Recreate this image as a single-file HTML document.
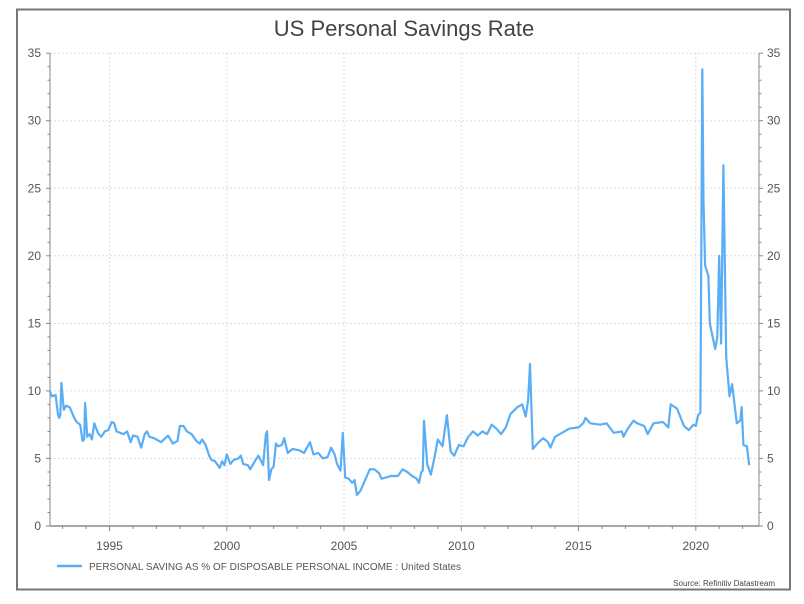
<!DOCTYPE html>
<html><head><meta charset="utf-8"><style>
html,body{margin:0;padding:0;background:#fff;}
body{width:804px;height:604px;overflow:hidden;font-family:"Liberation Sans",sans-serif;}
</style></head><body>
<svg id="s" width="804" height="604" xmlns="http://www.w3.org/2000/svg" style="position:absolute;left:0;top:0">
<rect x="0" y="0" width="804" height="604" fill="#fff"/>
<rect x="17" y="9.5" width="773" height="580" fill="#fff" stroke="#777" stroke-width="2"/>
<text x="404" y="36" text-anchor="middle" font-size="22" fill="#444">US Personal Savings Rate</text>
<g id="grid"></g>
<path id="line" fill="none" stroke="#5aaef5" stroke-width="2.2" stroke-linejoin="round"/>
<line x1="57" y1="566" x2="82" y2="566" stroke="#5aaef5" stroke-width="2.5"/>
<text x="89" y="570" font-size="10" fill="#555">PERSONAL SAVING AS % OF DISPOSABLE PERSONAL INCOME : United States</text>
<text x="775" y="586" text-anchor="end" font-size="8" fill="#444">Source: Refinitiv Datastream</text>
</svg>
<script>
var X0=50,X1=759,Y0=526,PY=13.51;
function xs(y){return 344+(y-2005)*23.45;}
function ys(v){return Y0-v*PY;}
var g='';
for(var v=5;v<=35;v+=5){var y=ys(v).toFixed(1);g+='<line x1="'+X0+'" y1="'+y+'" x2="'+X1+'" y2="'+y+'" stroke="#ddd" stroke-dasharray="2,2"/>';}
for(var yr=1995;yr<=2020;yr+=5){var x=xs(yr).toFixed(1);g+='<line x1="'+x+'" y1="53" x2="'+x+'" y2="'+Y0+'" stroke="#ddd" stroke-dasharray="2,2"/>';
g+='<text x="'+x+'" y="550" text-anchor="middle" font-size="12" fill="#555">'+yr+'</text>';}
g+='<line x1="'+X0+'" y1="53" x2="'+X0+'" y2="'+Y0+'" stroke="#888"/>';
g+='<line x1="'+X1+'" y1="53" x2="'+X1+'" y2="'+Y0+'" stroke="#888"/>';
g+='<line x1="'+X0+'" y1="'+Y0+'" x2="'+X1+'" y2="'+Y0+'" stroke="#888" stroke-width="1.5"/>';
for(var v=0;v<=35;v++){var y=ys(v).toFixed(1);var L=v%5==0?4:2.5;
g+='<line x1="'+(X0-L)+'" y1="'+y+'" x2="'+X0+'" y2="'+y+'" stroke="#888"/>';
g+='<line x1="'+X1+'" y1="'+y+'" x2="'+(X1+L)+'" y2="'+y+'" stroke="#888"/>';
if(v%5==0){g+='<text x="41" y="'+(+y+4)+'" text-anchor="end" font-size="12" fill="#555">'+v+'</text>';
g+='<text x="767" y="'+(+y+4)+'" font-size="12" fill="#555">'+v+'</text>';}}
for(var yr=1993;yr<=2022;yr++){var x=xs(yr).toFixed(1);var L=yr%5==0?5:3;g+='<line x1="'+x+'" y1="'+Y0+'" x2="'+x+'" y2="'+(Y0+L)+'" stroke="#888"/>';}
document.getElementById('grid').innerHTML=g;
var d=[1992.45,10.0,1992.55,9.6,1992.7,9.7,1992.8,8.3,1992.85,8.0,1992.9,8.2,1992.95,10.6,1993.05,8.6,1993.15,8.9,1993.3,8.8,1993.5,8.0,1993.6,7.7,1993.75,7.5,1993.85,6.3,1993.92,6.4,1993.96,9.1,1994.05,6.6,1994.15,6.8,1994.25,6.4,1994.35,7.6,1994.5,6.9,1994.65,6.6,1994.8,7.0,1994.95,7.1,1995.1,7.7,1995.2,7.6,1995.3,7.0,1995.45,6.9,1995.6,6.8,1995.75,7.0,1995.9,6.2,1996.0,6.7,1996.2,6.6,1996.35,5.8,1996.5,6.8,1996.6,7.0,1996.7,6.6,1996.9,6.5,1997.2,6.2,1997.5,6.7,1997.7,6.1,1997.9,6.3,1998.0,7.4,1998.15,7.4,1998.3,7.0,1998.5,6.8,1998.7,6.3,1998.85,6.1,1998.95,6.4,1999.1,6.0,1999.25,5.2,1999.35,4.9,1999.5,4.8,1999.7,4.3,1999.8,4.8,1999.9,4.5,2000.0,5.3,2000.15,4.6,2000.3,4.9,2000.5,5.0,2000.6,5.2,2000.7,4.6,2000.9,4.5,2001.0,4.2,2001.2,4.8,2001.35,5.2,2001.5,4.7,2001.55,4.5,2001.67,6.8,2001.72,7.0,2001.8,3.4,2001.9,4.2,2002.0,4.4,2002.1,6.1,2002.2,5.9,2002.35,6.0,2002.45,6.5,2002.6,5.4,2002.8,5.7,2003.1,5.6,2003.3,5.4,2003.45,5.9,2003.55,6.2,2003.7,5.3,2003.9,5.4,2004.1,5.0,2004.3,5.1,2004.45,5.8,2004.6,5.3,2004.7,4.6,2004.85,4.1,2004.95,6.9,2005.05,3.6,2005.2,3.5,2005.35,3.2,2005.45,3.4,2005.55,2.3,2005.7,2.6,2005.9,3.4,2006.1,4.2,2006.3,4.2,2006.5,3.9,2006.6,3.5,2006.8,3.6,2007.0,3.7,2007.3,3.7,2007.5,4.2,2007.7,4.0,2007.9,3.7,2008.1,3.5,2008.2,3.2,2008.3,4.0,2008.36,4.1,2008.41,7.8,2008.55,4.6,2008.7,3.8,2008.85,5.0,2009.0,6.4,2009.2,5.9,2009.39,8.2,2009.55,5.5,2009.7,5.2,2009.9,6.0,2010.1,5.9,2010.3,6.6,2010.5,7.0,2010.7,6.7,2010.9,7.0,2011.1,6.8,2011.3,7.5,2011.5,7.2,2011.7,6.8,2011.9,7.3,2012.1,8.3,2012.4,8.8,2012.6,9.0,2012.75,8.1,2012.85,9.3,2012.93,12.0,2013.05,5.7,2013.3,6.2,2013.5,6.5,2013.7,6.2,2013.8,5.8,2014.0,6.6,2014.3,6.9,2014.6,7.2,2015.0,7.3,2015.2,7.6,2015.3,8.0,2015.5,7.6,2015.92,7.5,2016.2,7.6,2016.5,6.9,2016.85,7.0,2016.92,6.6,2017.1,7.2,2017.35,7.8,2017.5,7.6,2017.8,7.4,2017.95,6.8,2018.2,7.6,2018.6,7.7,2018.83,7.3,2018.93,9.0,2019.2,8.7,2019.5,7.4,2019.7,7.1,2019.9,7.5,2020.0,7.4,2020.1,8.2,2020.2,8.4,2020.28,33.8,2020.33,24,2020.4,19.3,2020.54,18.5,2020.6,15,2020.83,13.1,2020.92,14,2021.0,20,2021.08,13.5,2021.18,26.7,2021.3,12.5,2021.44,9.6,2021.55,10.5,2021.75,7.6,2021.9,7.8,2021.96,8.8,2022.03,6.0,2022.18,5.9,2022.28,4.5];
var p='';for(var i=0;i<d.length;i+=2){p+=(i?'L':'M')+xs(d[i]).toFixed(1)+','+ys(d[i+1]).toFixed(1);}
document.getElementById('line').setAttribute('d',p);
</script>
</body></html>
